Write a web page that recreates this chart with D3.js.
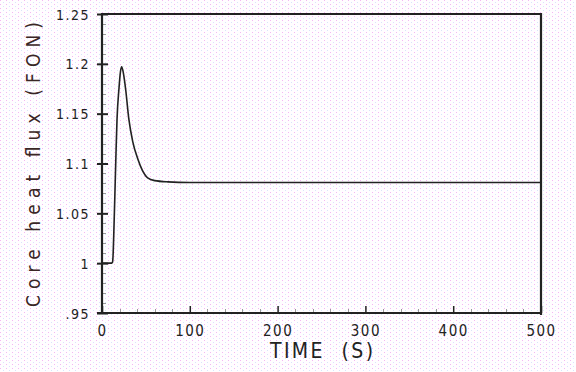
<!DOCTYPE html>
<html>
<head>
<meta charset="utf-8">
<script src="https://cdn.jsdelivr.net/npm/d3@7"></script>
<style>
  html, body { margin: 0; padding: 0; background: #fff; }
  svg { display: block; }
  text { font-family: "Liberation Sans Narrow", "DejaVu Sans Condensed", "Liberation Sans", sans-serif; }
</style>
</head>
<body>
<div id="chart"></div>
<script>
// data: time (s) and core heat flux (fraction of nominal)
const times = [0, 11, 12, 12.5, 13.7, 14.8, 15.9, 17.1, 19.4, 21, 22.4, 24.3, 27, 30.5, 35, 41, 46, 52, 60, 75, 100, 200, 300, 400, 500];
const flux  = [1.0, 1.0, 1.001, 1.006, 1.038, 1.073, 1.109, 1.144, 1.176, 1.192, 1.197, 1.191, 1.174, 1.145, 1.122, 1.104, 1.093, 1.0855, 1.0828, 1.0816, 1.081, 1.081, 1.081, 1.081, 1.081];
const xTicks = [0, 100, 200, 300, 400, 500];
const yTicks = [0.95, 1.0, 1.05, 1.1, 1.15, 1.2, 1.25];
const yTickLabels = [".95", "1", "1.05", "1.1", "1.15", "1.2", "1.25"];

const W = 576, H = 372;
const m = { left: 102, right: 541, top: 14, bottom: 313 };

const svg = d3.select("#chart").append("svg").attr("width", W).attr("height", H);

// dithered background like the gif
const defs = svg.append("defs");
const pat = defs.append("pattern").attr("id", "dots").attr("width", 6).attr("height", 4)
  .attr("patternUnits", "userSpaceOnUse");
pat.append("rect").attr("width", 6).attr("height", 4).attr("fill", "#fffdff");
pat.append("rect").attr("x", 0).attr("y", 0).attr("width", 1).attr("height", 1).attr("fill", "#f3b8f3");
pat.append("rect").attr("x", 3).attr("y", 2).attr("width", 1).attr("height", 1).attr("fill", "#d8e4fb");
svg.append("rect").attr("width", W).attr("height", H).attr("fill", "url(#dots)");

const x = d3.scaleLinear().domain([0, 500]).range([m.left, m.right]);
const y = d3.scaleLinear().domain([0.95, 1.25]).range([m.bottom, m.top]);

const ink = "#222";

// minor ticks
svg.append("g").selectAll("line").data(d3.range(0.96, 1.25, 0.01).filter(v => Math.abs(v * 20 - Math.round(v * 20)) > 0.01))
  .join("line")
  .attr("x1", m.left).attr("x2", m.left + 4)
  .attr("y1", d => Math.round(y(d)) + 0.5).attr("y2", d => Math.round(y(d)) + 0.5)
  .attr("stroke", "#999").attr("stroke-width", 1);
svg.append("g").selectAll("line").data(d3.range(20, 500, 20).filter(v => v % 100 !== 0))
  .join("line")
  .attr("x1", d => Math.round(x(d)) + 0.5).attr("x2", d => Math.round(x(d)) + 0.5)
  .attr("y1", m.bottom).attr("y2", m.bottom - 4)
  .attr("stroke", "#999").attr("stroke-width", 1);

// y axis
const yAxis = d3.axisLeft(y).tickValues(yTicks).tickSize(0).tickFormat((d, i) => yTickLabels[i]);
const gy = svg.append("g").attr("transform", `translate(${m.left},0)`).call(yAxis);
gy.select(".domain").remove();
gy.selectAll("text").attr("x", -12).attr("dy", "0.36em").attr("font-size", 14)
  .attr("letter-spacing", 1.5).attr("fill", ink).style("font-family", null);
gy.selectAll(".tick").append("line")
  .attr("x1", -5).attr("x2", 6).attr("stroke", ink).attr("stroke-width", 2);

// x axis
const xAxis = d3.axisBottom(x).tickValues(xTicks).tickSize(0).tickFormat(d3.format("d"));
const gx = svg.append("g").attr("transform", `translate(0,${m.bottom})`).call(xAxis);
gx.select(".domain").remove();
gx.selectAll("text").attr("y", 23).attr("dy", 0).attr("font-size", 15)
  .attr("letter-spacing", 1.5).attr("fill", ink).style("font-family", null);
gx.selectAll(".tick").append("line")
  .attr("y1", 0).attr("y2", -7).attr("stroke", ink).attr("stroke-width", 1.5);

// frame
svg.append("path")
  .attr("d", `M${m.left},${m.bottom}V${m.top}H${m.right}V${m.bottom + 2}M${m.left - 5},${m.bottom}H${m.right}`)
  .attr("fill", "none").attr("stroke", ink).attr("stroke-width", 2.2);

// curve
const pts = times.map((t, i) => [t, flux[i]]);
svg.append("path").datum(pts)
  .attr("d", d3.line().x(d => x(d[0])).y(d => y(d[1])).curve(d3.curveMonotoneX))
  .attr("fill", "none").attr("stroke", ink).attr("stroke-width", 1.6);

// axis titles
svg.append("text").attr("x", 270).attr("y", 358)
  .attr("textLength", 103).attr("lengthAdjust", "spacing")
  .attr("font-size", 21).attr("fill", ink).style("white-space", "pre")
  .text("TIME  (S)");
svg.append("text")
  .attr("transform", "translate(40,307) rotate(-90)")
  .attr("textLength", 285).attr("lengthAdjust", "spacing")
  .attr("font-size", 19).attr("fill", "#3a2626").style("white-space", "pre")
  .text("Core heat flux (FON)");
</script>
</body>
</html>
